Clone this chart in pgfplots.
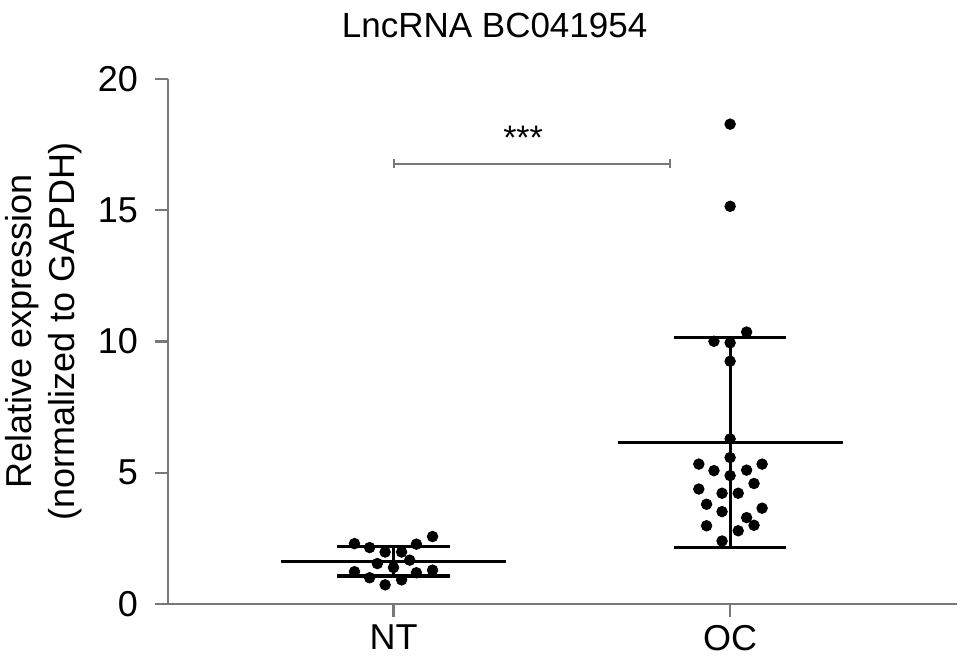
\documentclass[border=0pt]{standalone}
\usepackage{fontspec}
\setmainfont{Liberation Sans}
\usepackage{pgfplots}
\pgfplotsset{compat=1.18}

\definecolor{axisgray}{RGB}{120,120,120}

\begin{document}
\begin{tikzpicture}
\useasboundingbox (-84pt,-31pt) rectangle (400.5pt,302pt);
\begin{axis}[
    scale only axis,
    width=394.5pt, height=262.5pt,
    xmin=0.33, xmax=2.674,
    ymin=0, ymax=20,
    axis lines=left,
    axis line style={-, axisgray, line width=1.2pt},
    xtick={1,2}, xticklabels={NT,OC},
    ytick={0,5,10,15,20},
    tick align=outside,
    major tick length=6.5pt,
    tick style={axisgray, line width=1.2pt},
    /pgf/number format/assume math mode=true,
    tick label style={font=\fontsize{18}{21.6}\selectfont},
    yticklabel style={xshift=-5pt},
    xticklabel style={yshift=-0.5pt},
    title={LncRNA BC041954},
    title style={at={(axis description cs:0.414,1)}, anchor=base, yshift=15pt,
                 font=\fontsize{17.5}{21}\selectfont},
    ylabel={Relative expression\\(normalized to GAPDH)},
    ylabel style={at={(axis description cs:-0.158,0.52)}, anchor=center,
                  align=center, font=\fontsize{18}{21.5}\selectfont},
    clip=false,
]
% NT points
\addplot[only marks, mark=*, mark size=2.65pt, black] coordinates {
(0.884,2.30) (0.929,2.15) (0.975,1.98) (1.024,1.98) (1.068,2.28) (1.116,2.57)
(0.952,1.54) (1.048,1.67) (1.000,1.39)
(0.884,1.23) (0.929,1.00) (0.975,0.73) (1.024,0.92) (1.068,1.19) (1.116,1.29)
};
% OC points
\addplot[only marks, mark=*, mark size=2.65pt, black] coordinates {
(2.000,18.28) (2.000,15.15)
(2.049,10.36) (1.952,10.01) (2.000,9.95) (2.000,9.25)
(2.000,6.29) (2.000,5.58)
(1.907,5.33) (1.952,5.08) (2.049,5.10) (2.095,5.33) (2.000,4.89)
(2.071,4.59) (1.907,4.38) (1.976,4.22) (2.024,4.22)
(1.930,3.80) (1.976,3.52) (2.095,3.65) (2.049,3.29)
(2.071,3.00) (1.930,2.98) (2.024,2.79) (1.976,2.40)
};
% mean and SD lines
\addplot[black, line width=1.6pt] coordinates {(0.666,1.61) (1.334,1.61)};
\addplot[black, line width=1.6pt] coordinates {(0.833,2.19) (1.167,2.19)};
\addplot[black, line width=1.6pt] coordinates {(0.833,1.07) (1.167,1.07)};
\addplot[black, line width=1.6pt] coordinates {(1,1.07) (1,2.19)};
\addplot[black, line width=1.6pt] coordinates {(1.666,6.16) (2.334,6.16)};
\addplot[black, line width=1.6pt] coordinates {(1.833,10.14) (2.167,10.14)};
\addplot[black, line width=1.6pt] coordinates {(1.833,2.16) (2.167,2.16)};
\addplot[black, line width=1.6pt] coordinates {(2,2.16) (2,10.14)};
% significance bracket
\addplot[axisgray, line width=1pt] coordinates {(1,16.78) (1.82,16.78)};
\addplot[axisgray, line width=1pt] coordinates {(1,16.62) (1,16.94)};
\addplot[axisgray, line width=1pt] coordinates {(1.82,16.62) (1.82,16.94)};
\node[font=\fontsize{17}{20}\selectfont] at (axis cs:1.385,17.75) {***};
\end{axis}
\end{tikzpicture}
\end{document}
